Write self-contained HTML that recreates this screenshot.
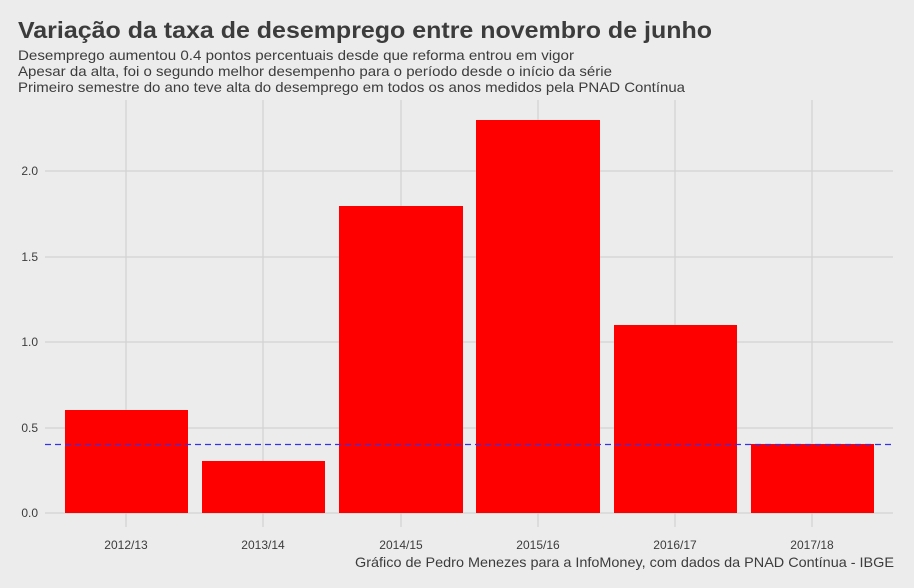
<!DOCTYPE html>
<html><head><meta charset="utf-8"><style>
body{margin:0;background:#ececec;}
svg{display:block;font-family:"Liberation Sans",sans-serif;}
</style></head><body>
<svg width="914" height="588" viewBox="0 0 914 588" xmlns="http://www.w3.org/2000/svg">
<rect width="914" height="588" fill="#ececec"/>
<text x="18" y="38" font-size="23" font-weight="bold" fill="#3c3c3c" textLength="694" lengthAdjust="spacingAndGlyphs">Variação da taxa de desemprego entre novembro de junho</text>
<g font-size="14" fill="#3c3c3c">
<text x="18" y="60" textLength="556" lengthAdjust="spacingAndGlyphs">Desemprego aumentou 0.4 pontos percentuais desde que reforma entrou em vigor</text>
<text x="18" y="76" textLength="594" lengthAdjust="spacingAndGlyphs">Apesar da alta, foi o segundo melhor desempenho para o período desde o início da série</text>
<text x="18" y="92" textLength="667" lengthAdjust="spacingAndGlyphs">Primeiro semestre do ano teve alta do desemprego em todos os anos medidos pela PNAD Contínua</text>
</g>
<g stroke="#d2d2d2" stroke-width="1.2">
<line x1="45" x2="893" y1="513" y2="513"/>
<line x1="45" x2="893" y1="428" y2="428"/>
<line x1="45" x2="893" y1="342" y2="342"/>
<line x1="45" x2="893" y1="257" y2="257"/>
<line x1="45" x2="893" y1="171" y2="171"/>
<line x1="126" x2="126" y1="100" y2="527"/>
<line x1="263" x2="263" y1="100" y2="527"/>
<line x1="401" x2="401" y1="100" y2="527"/>
<line x1="538" x2="538" y1="100" y2="527"/>
<line x1="675" x2="675" y1="100" y2="527"/>
<line x1="812" x2="812" y1="100" y2="527"/>
</g>
<g fill="#ff0000">
<rect x="65" y="410" width="123" height="103"/>
<rect x="202" y="461" width="123" height="52"/>
<rect x="339" y="206" width="124" height="307"/>
<rect x="476" y="120" width="124" height="393"/>
<rect x="614" y="325" width="123" height="188"/>
<rect x="751" y="444" width="123" height="69"/>
</g>
<line x1="45" x2="893" y1="444.5" y2="444.5" stroke="#3333ee" stroke-width="1.3" stroke-dasharray="6,4"/>
<g font-size="12" fill="#3c3c3c" text-anchor="end">
<text x="38" y="517">0.0</text>
<text x="38" y="432">0.5</text>
<text x="38" y="346">1.0</text>
<text x="38" y="261">1.5</text>
<text x="38" y="175">2.0</text>
</g>
<g font-size="12" fill="#3c3c3c" text-anchor="middle">
<text x="126" y="549">2012/13</text>
<text x="263" y="549">2013/14</text>
<text x="401" y="549">2014/15</text>
<text x="538" y="549">2015/16</text>
<text x="675" y="549">2016/17</text>
<text x="812" y="549">2017/18</text>
</g>
<text x="355" y="567" font-size="14" fill="#3c3c3c" textLength="539" lengthAdjust="spacingAndGlyphs">Gráfico de Pedro Menezes para a InfoMoney, com dados da PNAD Contínua - IBGE</text>
</svg>
</body></html>
